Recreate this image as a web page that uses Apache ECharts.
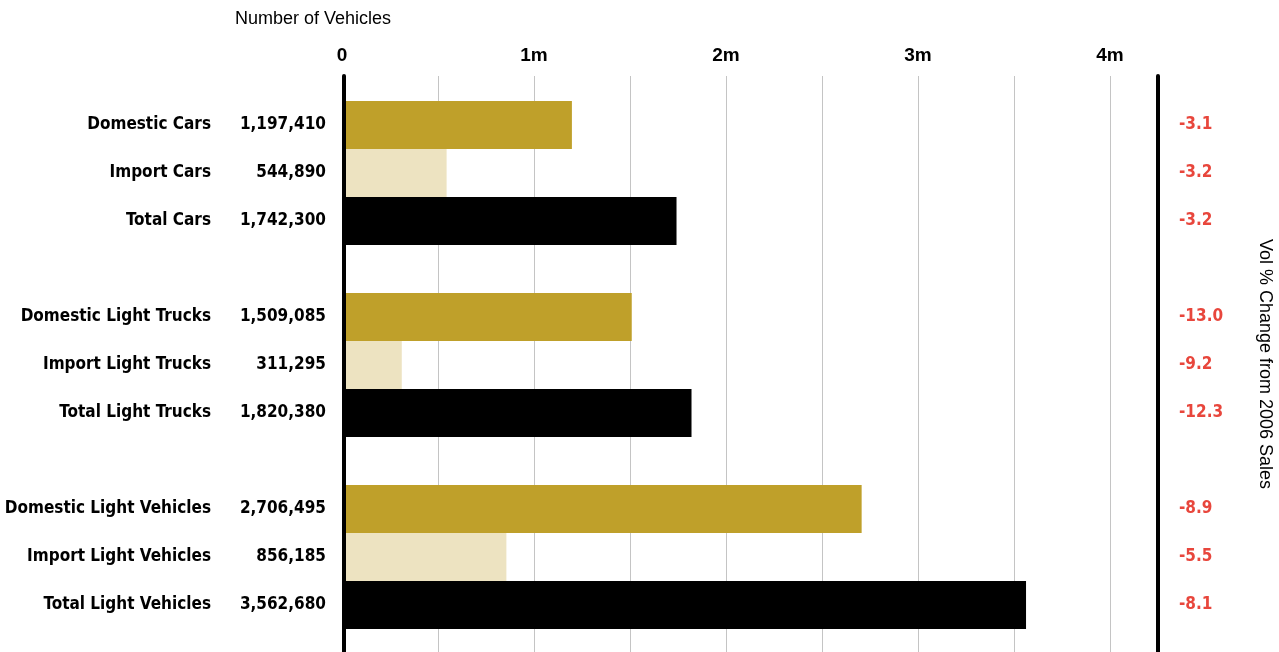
<!DOCTYPE html>
<html>
<head>
<meta charset="utf-8">
<script src="https://cdn.jsdelivr.net/npm/echarts@6/dist/echarts.min.js"></script>
<style>
html,body{margin:0;padding:0;background:#fff;}
#main{width:1279px;height:652px;}
</style>
</head>
<body>
<div id="main"></div>
<script>
// categories, with empty rows as gaps between the groups
var categories = ['Domestic Cars', 'Import Cars', 'Total Cars', ' ',
  'Domestic Light Trucks', 'Import Light Trucks', 'Total Light Trucks', '  ',
  'Domestic Light Vehicles', 'Import Light Vehicles', 'Total Light Vehicles'];
var vehicles = [1197410, 544890, 1742300, null, 1509085, 311295, 1820380, null, 2706495, 856185, 3562680];
var pctChange = [-3.1, -3.2, -3.2, null, -13.0, -9.2, -12.3, null, -8.9, -5.5, -8.1];
var kinds = ['domestic', 'import', 'total', null, 'domestic', 'import', 'total', null, 'domestic', 'import', 'total'];
var tickLabels = {0: '0', 1000000: '1m', 2000000: '2m', 3000000: '3m', 4000000: '4m'};

var colors = {domestic: '#bfa02a', import: '#ede3c1', total: '#000000'};
var condensed = '"Liberation Sans Narrow", "DejaVu Sans Condensed", sans-serif';

var chart = echarts.init(document.getElementById('main'));

// one series per kind, stacked so every row has a single full-height bar
var series = ['domestic', 'import', 'total'].map(function (k) {
  return {
    name: k,
    type: 'bar',
    xAxisIndex: 1,
    yAxisIndex: 2,
    stack: 'all',
    barWidth: '100%',
    itemStyle: {color: colors[k]},
    data: vehicles.map(function (v, i) { return kinds[i] === k ? v : '-'; })
  };
});

var option = {
  animation: false,
  title: {
    text: 'Number of Vehicles',
    left: 230, top: 5,
    textStyle: {fontFamily: '"Liberation Sans", Arial, sans-serif', fontWeight: 'normal', fontSize: 18, color: '#000'}
  },
  grid: [
    {left: 342, right: 121, top: 76, bottom: 0, outerBoundsMode: 'none'},
    {left: 342, right: 121, top: 101, bottom: 23, outerBoundsMode: 'none'}
  ],
  xAxis: [
    {
      gridIndex: 0, type: 'value', position: 'top',
      min: 0, max: 4250000, interval: 500000,
      axisLine: {show: false}, axisTick: {show: false},
      splitLine: {show: true, lineStyle: {color: '#c4c4c4', width: 1}},
      axisLabel: {
        margin: 11, showMaxLabel: false,
        fontFamily: '"Liberation Sans", Arial, sans-serif', fontWeight: 'bold', fontSize: 19, color: '#000',
        formatter: function (v) { return tickLabels[v] || ''; }
      }
    },
    {gridIndex: 1, type: 'value', min: 0, max: 4250000, show: false}
  ],
  yAxis: [
    {
      gridIndex: 0, type: 'value', position: 'left', offset: -2, z: 5,
      axisLine: {show: true, onZero: false, lineStyle: {color: '#000', width: 4}},
      axisTick: {show: false}, axisLabel: {show: false}, splitLine: {show: false}
    },
    {
      gridIndex: 0, type: 'value', position: 'right',
      name: 'Vol % Change from 2006 Sales', nameLocation: 'middle', nameRotate: -90, nameGap: 98,
      nameTextStyle: {fontFamily: '"Liberation Sans", Arial, sans-serif', fontSize: 18, color: '#000'},
      axisLine: {show: true, onZero: false, lineStyle: {color: '#000', width: 4}},
      axisTick: {show: false}, axisLabel: {show: false}, splitLine: {show: false}
    },
    {
      gridIndex: 1, type: 'category', position: 'left', inverse: true, data: categories,
      axisLine: {show: false}, axisTick: {show: false},
      axisLabel: {interval: 0, margin: 131, fontFamily: condensed, fontWeight: 'bold', fontSize: 17, color: '#000'}
    },
    {
      gridIndex: 1, type: 'category', position: 'left', inverse: true, data: categories,
      axisLine: {show: false}, axisTick: {show: false},
      axisLabel: {
        interval: 0, margin: 16, fontFamily: condensed, fontWeight: 'bold', fontSize: 17, color: '#000',
        formatter: function (v, i) { return vehicles[i] == null ? '' : vehicles[i].toLocaleString('en-US'); }
      }
    },
    {
      gridIndex: 1, type: 'category', position: 'right', inverse: true, data: categories,
      axisLine: {show: false}, axisTick: {show: false},
      axisLabel: {
        interval: 0, margin: 21, fontFamily: condensed, fontWeight: 'bold', fontSize: 17, color: '#e8463c',
        formatter: function (v, i) { return pctChange[i] == null ? '' : pctChange[i].toFixed(1); }
      }
    }
  ],
  series: series
};

chart.setOption(option);
</script>
</body>
</html>
